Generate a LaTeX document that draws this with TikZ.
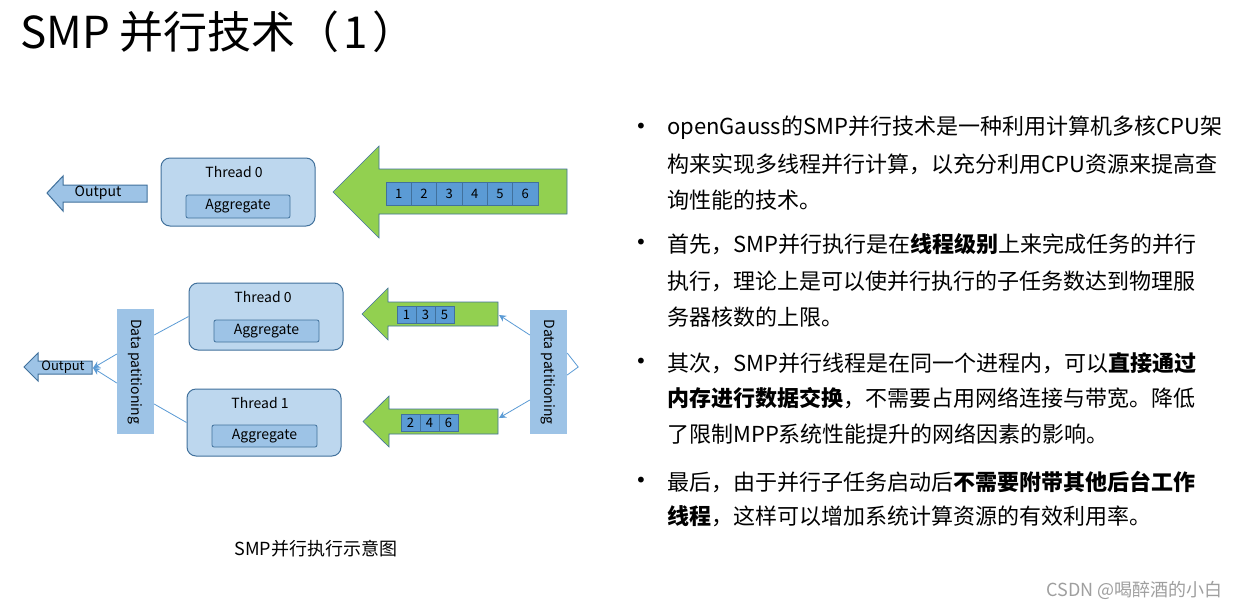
\documentclass[tikz,border=0pt]{standalone}
\usepackage{fontspec}
\setmainfont{Noto Sans CJK SC}
\newfontfamily\dotfont{DejaVu Sans}
\usepackage{xcolor}
\usetikzlibrary{positioning, arrows.meta}

\definecolor{boxfill}{HTML}{BDD7EE}
\definecolor{aggfill}{HTML}{9DC3E6}
\definecolor{edgeblue}{HTML}{41719C}
\definecolor{cellblue}{HTML}{5B9BD5}
\definecolor{arrowgreen}{HTML}{92D050}

\begin{document}
\begin{tikzpicture}[
    x=1pt, y=-1pt,
    thread/.style={rectangle, rounded corners=9pt, draw=edgeblue, fill=boxfill, line width=1pt, minimum width=154pt, minimum height=67pt},
    lbl/.style={inner sep=0pt, font=\fontsize{14}{16}\selectfont},
    agg/.style={rectangle, rounded corners=2pt, draw=edgeblue, fill=aggfill, line width=0.8pt, minimum width=105pt, minimum height=22pt, inner sep=0pt, font=\fontsize{14}{16}\selectfont},
    cell/.style={rectangle, draw=edgeblue, fill=cellblue, line width=0.6pt, inner sep=0pt, font=\fontsize{13}{15}\selectfont},
    partbar/.style={rectangle, fill=aggfill, inner sep=0pt, minimum width=37pt, minimum height=125pt, font=\fontsize{14}{16}\selectfont},
    link/.style={draw=cellblue, line width=0.8pt},
    flow/.style={draw=cellblue, line width=0.8pt, -{Stealth[length=7pt, width=7pt]}},
    greenarrow/.style={fill=arrowgreen, draw=edgeblue, line width=0.6pt},
    outarrow/.style={fill=aggfill, draw=edgeblue, line width=1pt},
    txt/.style={anchor=west, inner sep=0pt, font=\fontsize{22}{26}\selectfont},
    bullet/.style={inner sep=0pt, font=\dotfont\fontsize{20}{22}\selectfont}
]
\useasboundingbox (0,0) rectangle (1238,608);
\fill[white] (0,0) rectangle (1238,608);

% Title
\node[anchor=west, inner sep=0pt, font=\fontsize{44}{48}\selectfont] (title) at (20,32) {SMP 并行技术（\hspace{4pt}1\hspace{4pt}）};

% Upper part: one thread
\draw[outarrow] (47,193) -- (63,176) -- (63,185) -- (147,185) -- (147,202) -- (63,202) -- (63,211) -- cycle;
\node[lbl] (out1) at (98,193) {Output};

\node[thread, minimum height=68pt] (t0box) at (238,192) {};
\node[lbl] (t0lbl) at (234,172) {Thread 0};
\node[agg, minimum width=104pt, minimum height=23pt] (t0agg) at (238,206.5) {Aggregate};

\draw[greenarrow] (333,192) -- (379,146) -- (379,169) -- (567,169) -- (567,214) -- (379,214) -- (379,238) -- cycle;
\foreach \n [count=\i from 0] in {1,...,6}
    \node[cell, minimum width=25.3pt, minimum height=23pt] (c\n) at (398.7+25.3*\i,193.5) {\n};

% Lower part: two threads
\draw[outarrow] (24,367) -- (38,353) -- (38,361) -- (92,361) -- (92,374) -- (38,374) -- (38,381) -- cycle;
\node[lbl, font=\fontsize{13}{15}\selectfont] (out2) at (63,367.5) {Output};
\coordinate (outend) at (93,368);

\node[partbar] (lbar) at (135.5,371.5) {\rotatebox{-90}{Data patitioning}};
\node[partbar, minimum height=124pt] (rbar) at (548.5,372) {\rotatebox{-90}{Data patitioning}};

\node[thread] (b0box) at (266,316.5) {};
\node[lbl] (b0lbl) at (263,297) {Thread 0};
\node[agg] (b0agg) at (266.5,331) {Aggregate};

\node[thread] (b1box) at (264,422.5) {};
\node[lbl] (b1lbl) at (260,403) {Thread 1};
\node[agg] (b1agg) at (264.5,436) {Aggregate};

\draw[greenarrow] (362,314) -- (388,288) -- (388,302) -- (498,302) -- (498,326) -- (388,326) -- (388,340) -- cycle;
\foreach \n [count=\i from 0] in {1,3,5}
    \node[cell, minimum width=19pt, minimum height=17pt] (d\n) at (406.5+19*\i,314.5) {\n};
\coordinate (g1end) at (499,315);

\draw[greenarrow] (363,421.5) -- (389,396) -- (389,409) -- (498,409) -- (498,434) -- (389,434) -- (389,447) -- cycle;
\foreach \n [count=\i from 0] in {2,4,6}
    \node[cell, minimum width=19pt, minimum height=17pt] (d\n) at (410.5+19*\i,422.5) {\n};
\coordinate (g2end) at (499,418);

% connectors
\draw[flow] ([yshift=17.5pt]lbar.west) -- (outend);
\draw[flow] ([yshift=-11.5pt]lbar.west) -- (outend);
\draw[link] ([yshift=36.5pt]lbar.east) -- (b0box.west);
\draw[link] ([yshift=-32.5pt]lbar.east) -- (b1box.west);
\draw[flow] ([yshift=37pt]rbar.west) -- (g1end);
\draw[flow] ([yshift=-28pt]rbar.west) -- (g2end);
\draw[link] ([yshift=19pt]rbar.east) -- ++(11,14) -- ([yshift=-3pt]rbar.east);

% caption
\node[inner sep=0pt, font=\fontsize{18}{20}\selectfont] (caption) at (316,549) {SMP并行执行示意图};

% bullet text
\foreach \y [count=\k] in {128,244,363,482}
    \node[bullet] (b\k) at (641,\y) {•};
\node[txt] (p1a) at (667,128) {openGauss的SMP并行技术是一种利用计算机多核CPU架};
\node[txt] (p1b) at (667,164) {构来实现多线程并行计算，以充分利用CPU资源来提高查};
\node[txt] (p1c) at (667,200) {询性能的技术。};
\node[txt] (p2a) at (667,244) {首先，SMP并行执行是在\textbf{线程级别}上来完成任务的并行};
\node[txt] (p2b) at (667,281) {执行，理论上是可以使并行执行的子任务数达到物理服};
\node[txt] (p2c) at (667,317) {务器核数的上限。};
\node[txt] (p3a) at (667,363) {其次，SMP并行线程是在同一个进程内，可以\textbf{直接通过}};
\node[txt] (p3b) at (667,398) {\textbf{内存进行数据交换}，不需要占用网络连接与带宽。降低};
\node[txt] (p3c) at (667,434) {了限制MPP系统性能提升的网络因素的影响。};
\node[txt] (p4a) at (667,482) {最后，由于并行子任务启动后\textbf{不需要附带其他后台工作}};
\node[txt] (p4b) at (667,516) {\textbf{线程}，这样可以增加系统计算资源的有效利用率。};

% watermark
\node[anchor=east, inner sep=0pt, text=gray!75, font=\fontsize{18}{20}\selectfont] (mark) at (1223,590) {CSDN @喝醉酒的小白};
\end{tikzpicture}
\end{document}
